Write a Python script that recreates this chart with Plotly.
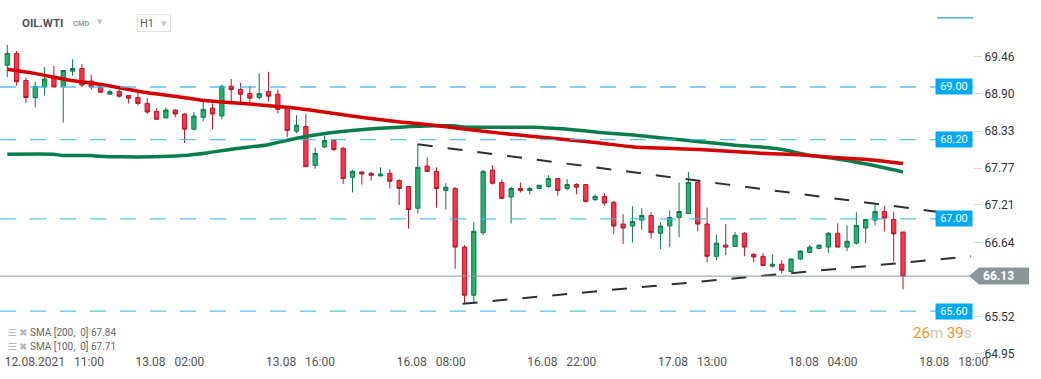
import plotly.graph_objects as go

# ---------------- data ----------------
opens = [69.33, 69.51, 69.10, 68.84, 69.00, 69.15, 69.01, 69.24, 69.28, 69.09,
         69.00, 68.89, 68.93, 68.87, 68.84, 68.75, 68.63, 68.53, 68.65, 68.59,
         68.36, 68.54, 68.68, 68.56, 69.01, 68.96, 68.90, 68.84, 68.93, 68.89,
         68.69, 68.33, 68.40, 67.81, 68.09, 68.19, 68.07, 67.63, 67.71, 67.69,
         67.65, 67.69, 67.58, 67.49, 67.16, 67.80, 67.72, 67.43, 67.46, 66.57,
         65.84, 66.79, 67.74, 67.55, 67.33, 67.46, 67.43, 67.46, 67.49, 67.61,
         67.46, 67.52, 67.52, 67.29, 67.34, 67.25, 66.92, 66.89, 66.98, 67.05,
         66.78, 66.89, 67.02, 67.08, 67.55, 66.92, 66.43, 66.60, 66.58, 66.78,
         66.46, 66.43, 66.28, 66.31, 66.20, 66.39, 66.49, 66.55, 66.57, 66.78,
         66.57, 66.63, 66.86, 66.98, 67.11, 66.99, 66.80]
highs = [69.64, 69.55, 69.14, 69.08, 69.30, 69.32, 69.25, 69.42, 69.35, 69.18,
         69.01, 68.96, 69.01, 68.87, 68.92, 68.83, 68.68, 68.69, 68.66, 68.60,
         68.62, 68.80, 68.75, 69.03, 69.12, 69.06, 69.01, 69.21, 69.23, 68.96,
         68.71, 68.57, 68.59, 68.08, 68.26, 68.21, 68.09, 67.74, 67.72, 67.71,
         67.78, 67.75, 67.60, 67.49, 68.14, 67.93, 67.78, 67.54, 67.48, 66.60,
         66.95, 67.74, 67.81, 67.60, 67.49, 67.55, 67.48, 67.51, 67.66, 67.61,
         67.60, 67.54, 67.53, 67.37, 67.39, 67.27, 67.07, 67.19, 67.16, 67.10,
         66.95, 67.13, 67.55, 67.71, 67.55, 67.17, 66.76, 66.92, 66.80, 66.80,
         66.48, 66.48, 66.46, 66.37, 66.40, 66.52, 66.60, 66.61, 66.80, 66.93,
         66.90, 67.10, 66.99, 67.22, 67.20, 67.10, 66.80]
lows = [69.15, 69.02, 68.76, 68.69, 68.87, 69.00, 68.46, 69.17, 69.00, 68.96,
        68.92, 68.89, 68.84, 68.75, 68.72, 68.59, 68.51, 68.53, 68.54, 68.15,
        68.34, 68.48, 68.36, 68.51, 68.78, 68.75, 68.75, 68.81, 68.78, 68.60,
        68.24, 68.30, 67.79, 67.76, 68.07, 68.03, 67.53, 67.40, 67.52, 67.58,
        67.65, 67.46, 67.21, 66.85, 67.08, 67.71, 67.17, 67.14, 66.24, 65.72,
        65.72, 66.75, 67.52, 67.30, 66.93, 67.40, 67.37, 67.45, 67.47, 67.35,
        67.43, 67.37, 67.25, 67.27, 67.20, 66.77, 66.62, 66.64, 66.83, 66.70,
        66.54, 66.57, 66.72, 67.07, 66.81, 66.34, 66.37, 66.45, 66.58, 66.43,
        66.34, 66.29, 66.26, 66.17, 66.19, 66.37, 66.48, 66.54, 66.48, 66.57,
        66.51, 66.61, 66.63, 66.90, 66.81, 66.35, 65.93]
closes = [69.51, 69.08, 68.84, 69.01, 69.12, 69.00, 69.25, 69.28, 69.03, 69.00,
          68.92, 68.93, 68.86, 68.83, 68.75, 68.62, 68.51, 68.65, 68.59, 68.36,
          68.56, 68.66, 68.59, 69.01, 68.96, 68.89, 68.83, 68.90, 68.86, 68.66,
          68.34, 68.42, 67.79, 67.99, 68.19, 68.05, 67.61, 67.72, 67.68, 67.66,
          67.68, 67.57, 67.46, 67.14, 67.78, 67.72, 67.46, 67.48, 66.57, 65.84,
          66.81, 67.72, 67.54, 67.31, 67.46, 67.43, 67.46, 67.51, 67.61, 67.43,
          67.52, 67.48, 67.26, 67.34, 67.24, 66.89, 66.86, 66.96, 67.05, 66.79,
          66.89, 67.02, 67.11, 67.55, 66.92, 66.43, 66.63, 66.57, 66.75, 66.57,
          66.42, 66.29, 66.31, 66.22, 66.39, 66.51, 66.57, 66.60, 66.78, 66.57,
          66.66, 66.90, 66.99, 67.11, 67.01, 66.77, 66.13]
candle_idx = list(range(len(opens)))

# SMA 200 (red) sampled along the drawn line: candle index -> price
sma200_x = [0, 2.8, 6.4, 9.9, 13.5, 15.6, 18.9, 21.4, 24.2, 27.8, 31.4, 34.9, 38.5,
            42.1, 45.7, 49.2, 52.8, 56.4, 60.0, 63.5, 67.1, 70.7, 74.2, 77.8,
            81.4, 84.9, 88.5, 92.1, 96.0]
sma200_y = [69.27, 69.21, 69.11, 69.04, 68.95, 68.90, 68.84, 68.79, 68.76, 68.72,
            68.67, 68.60, 68.53, 68.47, 68.42, 68.36, 68.30, 68.25, 68.20, 68.15,
            68.09, 68.07, 68.05, 68.02, 67.99, 67.97, 67.93, 67.90, 67.84]
# SMA 100 (green)
sma100_x = [0, 4.9, 6.0, 8.9, 9.9, 12.1, 15.6, 18.8, 21.4, 24.2, 27.8, 30.3, 32.4,
            34.9, 38.5, 42.1, 45.7, 47.8, 49.2, 56.4, 58.9, 60.0, 63.5, 67.1,
            70.7, 74.2, 77.8, 81.4, 83.5, 85.7, 88.5, 92.1, 96.0]
sma100_y = [67.98, 67.98, 67.96, 67.96, 67.95, 67.94, 67.94, 67.96, 68.00, 68.06,
            68.12, 68.20, 68.26, 68.31, 68.36, 68.39, 68.41, 68.41, 68.39, 68.39,
            68.37, 68.36, 68.31, 68.27, 68.22, 68.17, 68.12, 68.08, 68.04, 67.97,
            67.92, 67.83, 67.71]

# drawn trend lines (index, price)
trend_upper_x = [44.0, 103.3]
trend_upper_y = [68.13, 67.04]
trend_lower_x = [48.8, 103.3]
trend_lower_y = [65.71, 66.43]

levels = [69.00, 68.20, 67.00, 65.60]
top_level = 70.05
last_price = 66.13
sma200_last = 67.84
sma100_last = 67.71

x_tick_idx = [0, 14, 28, 42, 56, 70, 84, 98]
NB = "\u00a0\u00a0\u00a0"
x_tick_text = ["12.08.2021" + NB + "11:00", "13.08" + NB + "02:00", "13.08" + NB + "16:00",
               "16.08" + NB + "08:00", "16.08" + NB + "22:00", "17.08" + NB + "13:00",
               "18.08" + NB + "04:00", "18.08" + NB + "18:00"]
y_ticks = [69.46, 68.90, 68.33, 67.77, 67.21, 66.64, 65.52, 64.95]

# ---------------- layout geometry ----------------
W, H = 1041, 379
ML, MR, MT, MB = 0, 68, 0, 24
PW, PH = W - ML - MR, H - MT - MB
X_RANGE = [-0.78, 103.5]
Y_RANGE = [64.933, 70.320]


def px(x):
    return (x - ML) / PW


def py(y):
    return 1 - (y - MT) / PH


fig = go.Figure()

fig.add_trace(go.Candlestick(
    x=candle_idx, open=opens, high=highs, low=lows, close=closes,
    increasing=dict(line=dict(color="#0c7a49", width=1), fillcolor="#27b270"),
    decreasing=dict(line=dict(color="#b4182b", width=1), fillcolor="#ff3448"),
    whiskerwidth=0, hoverinfo="skip", showlegend=False,
))

fig.add_trace(go.Scatter(x=sma100_x, y=sma100_y, mode="lines",
                         line=dict(color="#0b7d4c", width=3.5, shape="spline", smoothing=0.6),
                         hoverinfo="skip"))
fig.add_trace(go.Scatter(x=sma200_x, y=sma200_y, mode="lines",
                         line=dict(color="#d40000", width=3.5, shape="spline", smoothing=0.6),
                         hoverinfo="skip"))

for tx, ty in [(trend_upper_x, trend_upper_y), (trend_lower_x, trend_lower_y)]:
    fig.add_trace(go.Scatter(x=tx, y=ty, mode="lines",
                             line=dict(color="#2b3034", width=2, dash="15px,15px"),
                             hoverinfo="skip"))

shapes = []
for lv in levels:
    shapes.append(dict(type="line", xref="paper", yref="y", x0=0, x1=1, y0=lv, y1=lv,
                       line=dict(color="#3db8f3", width=1.3, dash="16px,14px"),
                       layer="above", opacity=0.85))
shapes.append(dict(type="line", xref="paper", yref="y", x0=px(937), x1=1,
                   y0=top_level, y1=top_level, line=dict(color="#1ea7ec", width=1.3)))
shapes.append(dict(type="line", xref="paper", yref="y", x0=0, x1=1,
                   y0=last_price, y1=last_price, line=dict(color="#8c979c", width=1),
                   layer="above"))
shapes.append(dict(type="path", xref="paper", yref="y", xsizemode="pixel", ysizemode="pixel",
                   xanchor=1, yanchor=last_price,
                   path="M -4,0 L 6,8.5 L 56,8.5 L 56,-8.5 L 6,-8.5 Z",
                   fillcolor="#8b969a", line=dict(width=0)))

annotations = []
for lv in levels:
    annotations.append(dict(xref="paper", yref="y", x=1, y=lv, xanchor="right",
                            yanchor="middle", text=f"{lv:.2f}", showarrow=False,
                            font=dict(family="Roboto", size=11, color="white"),
                            bgcolor="#03a9f4", borderpad=2, width=32, height=11))
annotations.append(dict(xref="paper", yref="y", x=1, y=last_price, xanchor="left",
                        yanchor="middle", xshift=8, text=f"<b>{last_price:.2f}</b>",
                        showarrow=False, font=dict(family="Roboto", size=12, color="white")))
annotations.append(dict(xref="paper", yref="paper", x=px(973), y=py(333), xanchor="right",
                        yanchor="middle", showarrow=False,
                        text='<span style="color:#f7931e">26</span><span style="color:#c8c8c8">m</span> '
                             '<span style="color:#f7931e">39</span><span style="color:#c8c8c8">s</span>',
                        font=dict(family="Roboto", size=15)))
for row_y, per, val in [(332.7, 200, sma200_last), (346, 100, sma100_last)]:
    annotations.append(dict(xref="paper", yref="paper", x=px(6), y=py(row_y), xanchor="left",
                            yanchor="middle", showarrow=False,
                            text=f'<span style="color:#b8b8b8">☰ ✖</span> SMA [{per},\u00a0 0] {val:.2f}',
                            font=dict(family="Roboto", size=10, color="#666")))
annotations.append(dict(xref="paper", yref="paper", x=px(20), y=py(22.5), xanchor="left",
                        yanchor="middle", showarrow=False, text="<b>OIL.WTI</b>",
                        font=dict(family="Roboto", size=11.5, color="#4b555c")))
annotations.append(dict(xref="paper", yref="paper", x=px(71), y=py(23), xanchor="left",
                        yanchor="middle", showarrow=False, text="<b>CMD</b>",
                        font=dict(family="Roboto", size=7.5, color="#8ea0ad")))
annotations.append(dict(xref="paper", yref="paper", x=px(99.5), y=py(21.5), xanchor="center",
                        yanchor="middle", showarrow=False, text="▼",
                        font=dict(family="DejaVu Sans", size=7, color="#c6c6c6")))
annotations.append(dict(xref="paper", yref="paper", x=px(137), y=py(14.5), xanchor="left",
                        yanchor="top", showarrow=False, text="H1", align="left",
                        width=28, height=12, borderpad=2, bordercolor="#e2e2e2", borderwidth=1,
                        font=dict(family="Roboto", size=11, color="#555")))
annotations.append(dict(xref="paper", yref="paper", x=px(163.5), y=py(23.5), xanchor="center",
                        yanchor="middle", showarrow=False, text="▼",
                        font=dict(family="DejaVu Sans", size=7, color="#c6c6c6")))

fig.update_layout(
    width=W, height=H, margin=dict(l=ML, r=MR, t=MT, b=MB),
    paper_bgcolor="white", plot_bgcolor="white", showlegend=False,
    boxgap=0.35, font=dict(family="Roboto"),
    shapes=shapes, annotations=annotations,
    xaxis=dict(range=X_RANGE, tickmode="array", tickvals=x_tick_idx, ticktext=x_tick_text,
               ticks="outside", ticklen=7, tickcolor="#dadada", showgrid=False,
               zeroline=False, showline=False, rangeslider=dict(visible=False),
               ticklabelposition="outside right", ticklabelstandoff=-4, ticklabelshift=-3,
               tickfont=dict(family="Roboto", size=12, color="#555")),
    yaxis=dict(range=Y_RANGE, side="right", tickmode="array", tickvals=y_ticks,
               ticktext=[f"{v:.2f}" for v in y_ticks], ticks="outside", ticklen=8,
               tickcolor="#dadada", showgrid=False, zeroline=False, showline=False,
               tickfont=dict(family="Roboto", size=12, color="#333")),
)

fig.write_html("out.html", config={"displayModeBar": False},
               post_script="document.body.style.margin='0px';document.body.style.overflow='hidden';")
